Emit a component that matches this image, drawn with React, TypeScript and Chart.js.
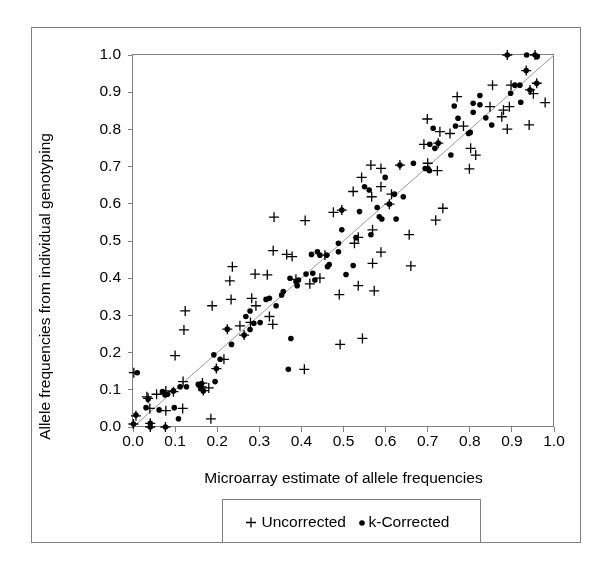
import React, { useEffect, useRef } from "react";
import { Chart, registerables } from "chart.js";

Chart.register(...registerables);

const seriesLabels = ["Uncorrected", "k-Corrected"];
const xTitle = "Microarray estimate of allele frequencies";
const yTitle = "Allele frequencies from individual genotyping";
const axisMin = 0;
const axisMax = 1;
const axisStep = 0.1;

const uncorrectedX = [
  0.889, 0.955, 0.934, 0.854, 0.898, 0.959, 0.943, 0.951, 0.979, 0.770,
  0.848, 0.894, 0.880, 0.876, 0.889, 0.941, 0.699, 0.729, 0.753, 0.785,
  0.691, 0.725, 0.802, 0.814, 0.799, 0.700, 0.723, 0.634, 0.565, 0.589,
  0.543, 0.523, 0.589, 0.567, 0.614, 0.609, 0.496, 0.476, 0.736, 0.719,
  0.569, 0.535, 0.656, 0.526, 0.589, 0.569, 0.660, 0.535, 0.573, 0.490,
  0.545, 0.492, 0.335, 0.409, 0.333, 0.365, 0.378, 0.456, 0.236, 0.230,
  0.290, 0.319, 0.420, 0.444, 0.387, 0.233, 0.188, 0.124, 0.121, 0.282,
  0.292, 0.254, 0.279, 0.332, 0.324, 0.224, 0.264, 0.407, 0.100, 0.216,
  0.198, 0.119, 0.165, 0.163, 0.180, 0.167, 0.056, 0.078, 0.096, 0.036,
  0.033, 0.040, 0.078, 0.118, 0.185, 0.002, 0.007, 0.001, 0.041, 0.041,
  0.077,
];
const uncorrectedY = [
  1.000, 1.000, 0.958, 0.919, 0.919, 0.924, 0.906, 0.896, 0.872, 0.888,
  0.861, 0.861, 0.852, 0.834, 0.801, 0.812, 0.828, 0.794, 0.789, 0.809,
  0.760, 0.763, 0.749, 0.731, 0.694, 0.709, 0.689, 0.704, 0.704, 0.695,
  0.671, 0.633, 0.646, 0.619, 0.626, 0.599, 0.583, 0.577, 0.588, 0.556,
  0.530, 0.510, 0.517, 0.494, 0.470, 0.440, 0.433, 0.380, 0.366, 0.356,
  0.238, 0.222, 0.564, 0.555, 0.474, 0.464, 0.458, 0.462, 0.431, 0.393,
  0.411, 0.409, 0.385, 0.400, 0.397, 0.343, 0.326, 0.312, 0.261, 0.346,
  0.326, 0.272, 0.281, 0.276, 0.297, 0.263, 0.247, 0.155, 0.192, 0.182,
  0.157, 0.122, 0.118, 0.108, 0.105, 0.098, 0.088, 0.097, 0.095, 0.077,
  0.081, 0.050, 0.044, 0.050, 0.022, 0.146, 0.030, 0.008, 0.010, 0.000,
  0.000,
];

const correctedX = [
  0.889, 0.935, 0.955, 0.960, 0.934, 0.907, 0.919, 0.959, 0.943, 0.897,
  0.921, 0.824, 0.763, 0.808, 0.824, 0.808, 0.838, 0.852, 0.772, 0.713,
  0.766, 0.797, 0.801, 0.705, 0.717, 0.725, 0.755, 0.694, 0.701, 0.704,
  0.634, 0.666, 0.599, 0.550, 0.561, 0.621, 0.642, 0.609, 0.580, 0.496,
  0.538, 0.585, 0.591, 0.625, 0.496, 0.530, 0.565, 0.488, 0.488, 0.523,
  0.506, 0.424, 0.438, 0.444, 0.460, 0.466, 0.462, 0.411, 0.427, 0.432,
  0.373, 0.387, 0.393, 0.390, 0.357, 0.353, 0.340, 0.316, 0.324, 0.268,
  0.278, 0.287, 0.302, 0.278, 0.224, 0.264, 0.234, 0.375, 0.369, 0.192,
  0.207, 0.198, 0.195, 0.112, 0.127, 0.155, 0.163, 0.161, 0.167, 0.070,
  0.076, 0.082, 0.096, 0.036, 0.031, 0.062, 0.098, 0.108, 0.010, 0.007,
  0.001, 0.041, 0.041, 0.077,
];
const correctedY = [
  1.000, 1.000, 1.000, 0.995, 0.958, 0.919, 0.919, 0.924, 0.906, 0.897,
  0.873, 0.891, 0.863, 0.870, 0.866, 0.846, 0.831, 0.812, 0.830, 0.803,
  0.809, 0.789, 0.792, 0.760, 0.749, 0.763, 0.731, 0.695, 0.694, 0.689,
  0.704, 0.709, 0.671, 0.646, 0.637, 0.626, 0.619, 0.599, 0.590, 0.583,
  0.579, 0.565, 0.559, 0.559, 0.530, 0.509, 0.517, 0.494, 0.471, 0.434,
  0.410, 0.464, 0.471, 0.462, 0.462, 0.437, 0.431, 0.411, 0.413, 0.395,
  0.400, 0.391, 0.395, 0.380, 0.364, 0.355, 0.326, 0.343, 0.346, 0.297,
  0.312, 0.279, 0.281, 0.262, 0.263, 0.247, 0.222, 0.238, 0.155, 0.194,
  0.182, 0.157, 0.122, 0.108, 0.108, 0.115, 0.117, 0.104, 0.097, 0.095,
  0.086, 0.088, 0.097, 0.075, 0.052, 0.046, 0.052, 0.022, 0.146, 0.032,
  0.008, 0.010, 0.000, 0.000,
];

const diagonalX = [0, 1];
const diagonalY = [0, 1];

const FONT_FAMILY = '"Liberation Sans", Arial, Helvetica, sans-serif';
const FONT_SIZE = 15.5;
const AXIS_GRAY = "#808080";

const toPoints = (xs: number[], ys: number[]) => xs.map((x, i) => ({ x, y: ys[i] }));

const decorPlugin = {
  id: "decor",
  beforeDraw(chart: any) {
    const ctx = chart.ctx;
    ctx.save();
    ctx.fillStyle = "#ffffff";
    ctx.fillRect(0, 0, chart.width, chart.height);
    ctx.strokeStyle = AXIS_GRAY;
    ctx.lineWidth = 1;
    // outer chart border
    ctx.strokeRect(31.5, 27.5, 549, 515);
    // legend border
    ctx.strokeRect(222.5, 499.5, 258, 43);
    ctx.restore();
  },
  beforeDatasetsDraw(chart: any) {
    const { ctx, chartArea } = chart;
    ctx.save();
    ctx.strokeStyle = AXIS_GRAY;
    ctx.lineWidth = 1;
    const l = Math.round(chartArea.left) - 0.5;
    const t = Math.round(chartArea.top) - 0.5;
    const r = Math.round(chartArea.right) - 0.5;
    const b = Math.round(chartArea.bottom) - 0.5;
    ctx.strokeRect(l, t, r - l, b - t);
    ctx.restore();
  },
  afterDraw(chart: any) {
    const ctx = chart.ctx;
    ctx.save();
    ctx.font = `${FONT_SIZE}px ${FONT_FAMILY}`;
    ctx.fillStyle = "#000";
    // y axis title
    ctx.save();
    ctx.translate(46, 286.5);
    ctx.rotate(-Math.PI / 2);
    ctx.textAlign = "center";
    ctx.textBaseline = "middle";
    ctx.fillText(yTitle, 0, 0);
    ctx.restore();

    // legend
    const ly = 522.5;
    ctx.textAlign = "left";
    ctx.textBaseline = "middle";
    ctx.strokeStyle = "#000";
    ctx.lineWidth = 1.3;
    ctx.beginPath();
    ctx.moveTo(246, ly);
    ctx.lineTo(256, ly);
    ctx.moveTo(251, ly - 5);
    ctx.lineTo(251, ly + 5);
    ctx.stroke();
    ctx.fillText(seriesLabels[0], 261.5, ly);
    ctx.beginPath();
    ctx.arc(362, ly + 0.5, 2.8, 0, Math.PI * 2);
    ctx.fill();
    ctx.fillText(seriesLabels[1], 368.5, ly);
    ctx.restore();
  },
};

export default function App() {
  const canvasRef = useRef<HTMLCanvasElement | null>(null);

  useEffect(() => {
    if (!canvasRef.current) return;
    const font = { family: FONT_FAMILY, size: FONT_SIZE };
    const chart = new Chart(canvasRef.current, {
      type: "scatter",
      data: {
        datasets: [
          {
            label: seriesLabels[0],
            data: toPoints(uncorrectedX, uncorrectedY),
            pointStyle: "cross",
            pointRadius: 5,
            pointBorderWidth: 1.3,
            borderColor: "#000",
            backgroundColor: "#000",
            clip: false,
          },
          {
            label: seriesLabels[1],
            data: toPoints(correctedX, correctedY),
            pointStyle: "circle",
            pointRadius: 2.8,
            pointBorderWidth: 0,
            borderColor: "#000",
            backgroundColor: "#000",
            clip: false,
          },
          {
            type: "line",
            label: "y = x",
            data: toPoints(diagonalX, diagonalY),
            borderColor: "#9a9a9a",
            borderWidth: 1,
            pointRadius: 0,
            fill: false,
          },
        ],
      } as any,
      options: {
        animation: false,
        responsive: false,
        layout: { padding: { left: 0, top: 55, right: 46, bottom: 86.7 } },
        plugins: {
          legend: { display: false },
          tooltip: { enabled: false },
        },
        scales: {
          x: {
            type: "linear",
            min: axisMin,
            max: axisMax,
            ticks: {
              stepSize: axisStep,
              callback: (v: any) => Number(v).toFixed(1),
              font,
              color: "#000",
              padding: 0,
              maxRotation: 0,
              autoSkip: false,
            },
            grid: { drawOnChartArea: false, drawTicks: true, tickLength: 5, color: AXIS_GRAY },
            border: { display: false },
            title: { display: true, text: xTitle, font, color: "#000", padding: 0 },
            afterFit: (s: any) => {
              s.height = 61.3;
            },
          },
          y: {
            type: "linear",
            min: axisMin,
            max: axisMax,
            ticks: {
              stepSize: axisStep,
              callback: (v: any) => Number(v).toFixed(1),
              font,
              color: "#000",
              padding: 7,
              autoSkip: false,
            },
            grid: { drawOnChartArea: false, drawTicks: true, tickLength: 5, color: AXIS_GRAY },
            border: { display: false },
            title: { display: false },
            afterFit: (s: any) => {
              s.width = 133;
            },
          },
        },
      } as any,
      plugins: [decorPlugin],
    });
    return () => chart.destroy();
  }, []);

  return (
    <div style={{ position: "absolute", left: 0, top: 0, width: 600, height: 575, background: "#fff" }}>
      <canvas ref={canvasRef} width={600} height={575} style={{ display: "block" }} />
    </div>
  );
}
